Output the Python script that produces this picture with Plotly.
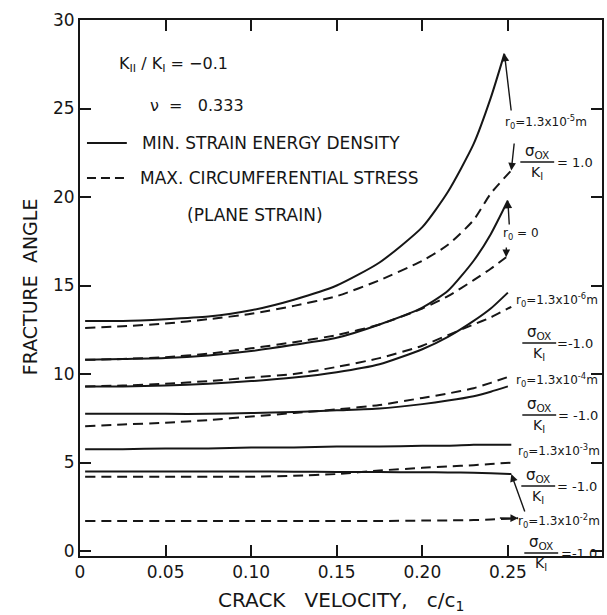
import plotly.graph_objects as go

# ---------------- data ----------------
vel = [0.003, 0.025, 0.05, 0.075, 0.10, 0.125, 0.15, 0.175, 0.20, 0.215, 0.23, 0.24]

# r0 = 1.3e-5 m, sigma_ox/K_I = 1.0
A_min = [13.0, 13.0, 13.1, 13.25, 13.6, 14.2, 15.0, 16.3, 18.3, 20.3, 23.0, 25.6]
A_min_end = (0.248, 28.1)
A_max = [12.6, 12.7, 12.85, 13.1, 13.4, 13.85, 14.4, 15.3, 16.4, 17.3, 18.7, 20.2]
A_max_end = (0.252, 21.5)
# r0 = 0
B_min = [10.8, 10.85, 10.9, 11.05, 11.3, 11.65, 12.05, 12.8, 13.75, 14.7, 16.4, 17.9]
B_min_end = (0.250, 19.8)
B_max = [10.8, 10.85, 10.95, 11.15, 11.45, 11.8, 12.2, 12.8, 13.7, 14.4, 15.3, 15.95]
B_max_end = (0.249, 16.6)
# r0 = 1.3e-6 m, sigma_ox/K_I = -1.0
C_min = [9.3, 9.3, 9.35, 9.45, 9.6, 9.8, 10.1, 10.55, 11.4, 12.1, 13.0, 13.7]
C_min_end = (0.250, 14.6)
C_max = [9.3, 9.35, 9.45, 9.6, 9.8, 10.0, 10.4, 10.9, 11.6, 12.2, 12.8, 13.2]
C_max_end = (0.252, 13.8)
# r0 = 1.3e-4 m
D_min = [7.75, 7.75, 7.75, 7.75, 7.8, 7.85, 7.95, 8.05, 8.3, 8.5, 8.75, 9.0]
D_min_end = (0.250, 9.3)
D_max = [7.05, 7.15, 7.25, 7.4, 7.6, 7.8, 8.0, 8.25, 8.65, 8.9, 9.2, 9.5]
D_max_end = (0.252, 9.9)
# r0 = 1.3e-3 m
E_min = [5.75, 5.75, 5.8, 5.8, 5.85, 5.85, 5.9, 5.9, 5.95, 5.95, 6.0, 6.0]
E_min_end = (0.252, 6.0)
E_max = [4.2, 4.2, 4.2, 4.2, 4.2, 4.25, 4.35, 4.55, 4.7, 4.78, 4.85, 4.92]
E_max_end = (0.254, 5.0)
# r0 = 1.3e-2 m
F_min = [4.5, 4.5, 4.5, 4.5, 4.5, 4.48, 4.47, 4.46, 4.45, 4.44, 4.42, 4.4]
F_min_end = (0.252, 4.35)
F_max = [1.7, 1.7, 1.7, 1.7, 1.7, 1.7, 1.7, 1.7, 1.72, 1.73, 1.75, 1.78]
F_max_end = (0.256, 1.85)

x_ticks = [0, 0.05, 0.10, 0.15, 0.20, 0.25]
x_ticktext = ["0", "0.05", "0.10", "0.15", "0.20", "0.25"]
y_ticks = [0, 5, 10, 15, 20, 25, 30]

r0_labels = ["r<sub>0</sub>=1.3x10<sup>-5</sup>m", "r<sub>0</sub> = 0",
             "r<sub>0</sub>=1.3x10<sup>-6</sup>m", "r<sub>0</sub>=1.3x10<sup>-4</sup>m",
             "r<sub>0</sub>=1.3x10<sup>-3</sup>m", "r<sub>0</sub>=1.3x10<sup>-2</sup>m"]
ratio_values = ["= 1.0", "=-1.0", "= -1.0", "= -1.0", "=-1.0"]

# ---------------- layout geometry ----------------
W, H = 607, 615
ML, MR, MT, MB = 80, 3, 20, 59
PW, PH = W - ML - MR, H - MT - MB
XR = [0, 0.305]
YR = [-0.28, 30]
INK = "#161616"
FONT = "DejaVu Sans"


def pp(px, py):
    return (px - ML) / PW, (H - MB - py) / PH


def dx(px):
    return XR[0] + (px - ML) / PW * (XR[1] - XR[0])


def dy(py):
    return YR[1] - (py - MT) / PH * (YR[1] - YR[0])


fig = go.Figure()

series = [(A_min, A_min_end, "solid"), (A_max, A_max_end, "dash"),
          (B_min, B_min_end, "solid"), (B_max, B_max_end, "dash"),
          (C_min, C_min_end, "solid"), (C_max, C_max_end, "dash"),
          (D_min, D_min_end, "solid"), (D_max, D_max_end, "dash"),
          (E_min, E_min_end, "solid"), (E_max, E_max_end, "dash"),
          (F_min, F_min_end, "solid"), (F_max, F_max_end, "dash")]

for ys, end, style in series:
    fig.add_trace(go.Scatter(
        x=vel + [end[0]], y=ys + [end[1]], mode="lines",
        line=dict(color=INK, width=2, shape="spline", smoothing=0.6,
                  dash="solid" if style == "solid" else "10px,6px"),
        showlegend=False, hoverinfo="skip"))

annotations = []
shapes = []


def text(px, py, s, size=16, anchor="left", angle=0):
    x, y = pp(px, py)
    annotations.append(dict(x=x, y=y, xref="paper", yref="paper", text=s,
                            showarrow=False, xanchor=anchor, yanchor="middle",
                            textangle=angle,
                            font=dict(family=FONT, size=size, color=INK)))


def arrow(head, tail_px):
    annotations.append(dict(x=head[0], y=head[1], xref="x", yref="y",
                            ax=dx(tail_px[0]), ay=dy(tail_px[1]), axref="x", ayref="y",
                            text="", showarrow=True, arrowhead=2, arrowsize=1.1,
                            arrowwidth=1.4, arrowcolor=INK, standoff=0))


def frac(cx, bar_y, val, val_x):
    text(cx, bar_y - 11, "σ<sub>OX</sub>", size=15, anchor="center")
    x0, y0 = pp(cx - 17, bar_y)
    x1, _ = pp(cx + 17, bar_y)
    shapes.append(dict(type="line", xref="paper", yref="paper", x0=x0, x1=x1, y0=y0, y1=y0,
                       line=dict(color=INK, width=1.5)))
    text(cx, bar_y + 11, "K<sub>I</sub>", size=14, anchor="center")
    text(val_x, bar_y, val, size=13, anchor="left")


# key / legend block
text(117, 64, "K<sub>II</sub> / K<sub>I</sub> = −0.1", size=16)
text(148, 105, "ν  =   0.333", size=16)
for py, dsh in [(143, "solid"), (178, "9px,5px")]:
    x0, y0 = pp(87, py)
    x1, _ = pp(127, py)
    shapes.append(dict(type="line", xref="paper", yref="paper", x0=x0, x1=x1, y0=y0, y1=y0,
                       line=dict(color=INK, width=2, dash=dsh)))
text(140, 143, "MIN. STRAIN ENERGY DENSITY", size=17)
text(138, 178, "MAX. CIRCUMFERENTIAL STRESS", size=17)
text(185, 215, "(PLANE STRAIN)", size=17)

# right-side labels
text(505, 122, r0_labels[0], size=12)
frac(539, 162, ratio_values[0], 557)
text(503, 234, r0_labels[1], size=12)
text(516, 300, r0_labels[2], size=12)
frac(541, 343, ratio_values[1], 557)
text(516, 380, r0_labels[3], size=12)
frac(541, 415, ratio_values[2], 558)
text(518, 451, r0_labels[4], size=12)
frac(540, 486, ratio_values[3], 557)
text(518, 521, r0_labels[5], size=12)
frac(543, 553, ratio_values[4], 561)

# arrows linking labels to curve ends
arrow(A_min_end, (513, 112))
arrow(A_max_end, (516, 142))
arrow(B_min_end, (511, 226))
arrow(B_max_end, (508, 246))
arrow(F_min_end, (527, 513))
arrow(F_max_end, (500, 518))

# axis titles
text(30, 287, "FRACTURE  ANGLE", size=19, anchor="center", angle=-90)
text(342, 601, "CRACK   VELOCITY,   c/c<sub>1</sub>", size=20, anchor="center")

axis_common = dict(showgrid=False, zeroline=False, showline=True, linecolor=INK,
                   linewidth=2, mirror="ticks", ticks="inside", ticklen=11,
                   tickwidth=2, tickcolor=INK,
                   tickfont=dict(family=FONT, size=17, color=INK))

fig.update_layout(
    width=W, height=H, margin=dict(l=ML, r=MR, t=MT, b=MB),
    paper_bgcolor="white", plot_bgcolor="white",
    xaxis=dict(range=XR, tickvals=x_ticks, ticktext=x_ticktext, **axis_common),
    yaxis=dict(range=YR, tickvals=y_ticks, **axis_common),
    annotations=annotations, shapes=shapes, showlegend=False)

fig.write_html("out.html")
